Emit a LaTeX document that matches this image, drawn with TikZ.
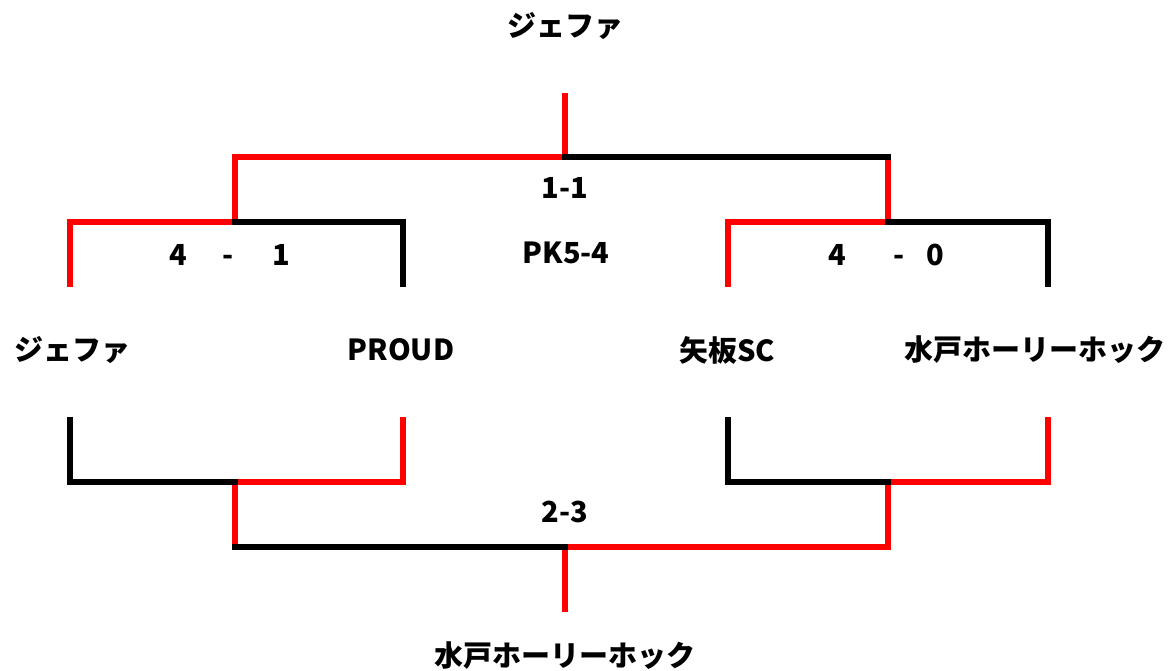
\documentclass[tikz,border=0pt]{standalone}
\usepackage{fontspec}
\setmainfont{Noto Sans CJK JP}
\begin{document}
\begin{tikzpicture}[x=1pt,y=-1pt,line width=6.5pt,line cap=rect,
		sieg/.style={draw=red},
		verl/.style={draw=black},
		txt/.style={font=\fontsize{29}{32}\selectfont\bfseries,inner sep=0pt}]
		\useasboundingbox (0,0) rectangle (1170,671);
		%Mannschaften
		\node[txt] (jefa) at (72,350) {ジェファ};
		\node[txt] (proud) at (401,350) {PROUD};
		\node[txt] (yaita) at (727,350) {矢板SC};
		\node[txt] (mito) at (1035,350) {水戸ホーリーホック};
		\node[txt] (sieger) at (565,26) {ジェファ};
		\node[txt] (sieger2) at (565,656) {水戸ホーリーホック};
		%Ergebnisse
		\node[txt] (e1) at (230,255) {4\hspace{35pt}-\hspace{39pt}1};
		\node[txt] (e2) at (886,255) {4\hspace{48pt}-\hspace{21pt}0};
		\node[txt] (e3) at (565,188) {1-1};
		\node[txt] (pk) at (566,253) {PK5-4};
		\node[txt] (e4) at (565,512) {2-3};
		%Klammerpunkte
		\foreach \n/\x in {jefa/70,proud/403,yaita/728,mito/1048}{
			\coordinate (\n-o) at (\x,284);
			\coordinate (\n-u) at (\x,420);
		}
		\coordinate (hl-o) at (235,222);
		\coordinate (hr-o) at (888,222);
		\coordinate (hl-u) at (235,482);
		\coordinate (hr-u) at (888,482);
		\coordinate (f-o) at (565,157);
		\coordinate (f-u) at (565,547);
		\coordinate (sieger-s) at (565,96.5);
		\coordinate (sieger2-s) at (565,608.5);
		%oben
		\draw[sieg] (jefa-o) |- (hl-o);
		\draw[sieg] (hl-o) |- (f-o) -- (sieger-s);
		\draw[sieg] (f-o -| hr-o) -- (hr-o) -| (yaita-o);
		\draw[verl] (hl-o) -| (proud-o);
		\draw[verl] (f-o) -- (f-o -| hr-o);
		\draw[verl] (hr-o) -| (mito-o);
		%unten
		\draw[sieg] (hl-u) -| (proud-u);
		\draw[sieg] (hl-u) -- (hl-u |- f-u);
		\draw[sieg] (sieger2-s) -- (f-u) -| (hr-u) -| (mito-u);
		\draw[verl] (jefa-u) |- (hl-u);
		\draw[verl] (hl-u |- f-u) -- (f-u);
		\draw[verl] (yaita-u) |- (hr-u);
	\end{tikzpicture}
\end{document}
